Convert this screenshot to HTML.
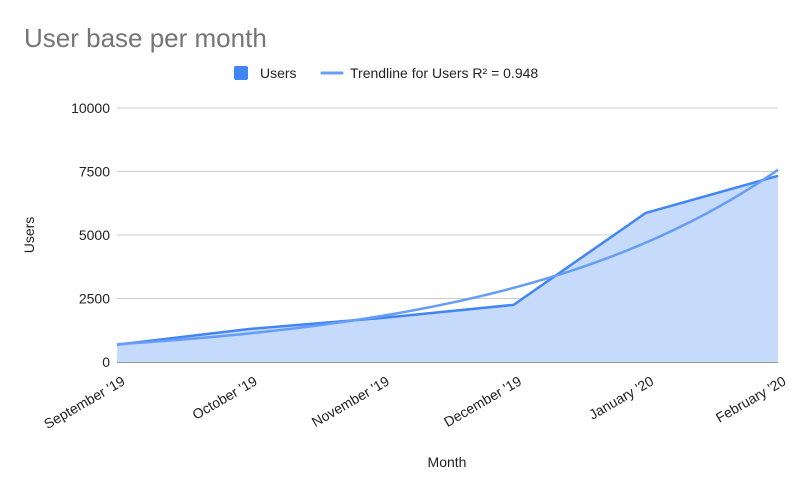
<!DOCTYPE html>
<html><head><meta charset="utf-8"><style>
body{margin:0;background:#fff;font-family:"Liberation Sans",Arial,sans-serif}
svg text{font-family:"Liberation Sans",Arial,sans-serif}
</style></head><body>
<svg width="800" height="494" viewBox="0 0 800 494" id="c">
<rect width="800" height="494" fill="#fff"/>
<text x="24" y="47" font-size="26" fill="#757575">User base per month</text>
<g>
<rect x="234" y="66" width="14" height="14" rx="2" fill="#4285f4"/>
<text x="260" y="78" font-size="14" fill="#222">Users</text>
<line x1="322" y1="73" x2="342" y2="73" stroke="#669df6" stroke-width="3" stroke-linecap="round"/>
<text x="350" y="78" font-size="14" fill="#222">Trendline for Users R² = 0.948</text>
</g>
<g id="grid"></g>
<g id="marks"></g>
<g id="xl"></g>
<text x="447" y="467" font-size="14" text-anchor="middle" fill="#222">Month</text>
<text transform="translate(34,235) rotate(-90)" font-size="14" text-anchor="middle" fill="#222">Users</text>
</svg>
<script>
const categories=["September '19","October '19","November '19","December '19","January '20","February '20"];
const users=[680,1300,1730,2250,5870,7330];
const yTicks=[0,2500,5000,7500,10000];
const NS="http://www.w3.org/2000/svg";
const X0=117,X1=778,Y0=362,Y1=108,YMAX=10000;
const xs=i=>X0+(X1-X0)*i/(categories.length-1);
const ys=v=>Y0-(Y0-Y1)*v/YMAX;
function mk(t,a,p){const e=document.createElementNS(NS,t);for(const k in a)e.setAttribute(k,a[k]);p.appendChild(e);return e;}
const grid=document.getElementById('grid'),marks=document.getElementById('marks'),xl=document.getElementById('xl');
yTicks.forEach(v=>{
 const l=mk('line',{x1:X0,x2:X1,y1:ys(v),y2:ys(v),stroke:v===0?'#333':'#ccc','stroke-width':1},grid);
 
 
 const t=mk('text',{x:110,y:ys(v)+5,'font-size':14,'text-anchor':'end',fill:'#222'},grid);
 t.textContent=v;
 
 
});
let d='M'+xs(0)+','+ys(0);
users.forEach((v,i)=>d+=' L'+xs(i)+','+ys(v));
d+=' L'+xs(users.length-1)+','+ys(0)+' Z';
const area=mk('path',{d:d,fill:'#c6dafc'},marks);


const line=mk('path',{d:users.map((v,i)=>(i?'L':'M')+xs(i)+','+ys(v)).join(' '),fill:'none',stroke:'#4285f4','stroke-width':2.5,'stroke-linejoin':'round'},marks);


const n=users.length;let mx=0,my=0;users.forEach((v,i)=>{mx+=i;my+=Math.log(v);});mx/=n;my/=n;
let sxy=0,sxx=0;users.forEach((v,i)=>{sxy+=(i-mx)*(Math.log(v)-my);sxx+=(i-mx)*(i-mx);});
const b=sxy/sxx,a=my-b*mx;
let td='';for(let k=0;k<=100;k++){const x=(n-1)*k/100;td+=(k?'L':'M')+(X0+(X1-X0)*x/(n-1))+','+ys(Math.exp(a+b*x))+' ';}
const tr=mk('path',{d:td,fill:'none',stroke:'#669df6','stroke-width':2.5},marks);


categories.forEach((c,i)=>{
 const t=mk('text',{transform:'translate('+(xs(i)+9)+',384) rotate(-30)','font-size':14,'text-anchor':'end',fill:'#222'},xl);
 t.textContent=c;
 
 
});
</script>
</body></html>
